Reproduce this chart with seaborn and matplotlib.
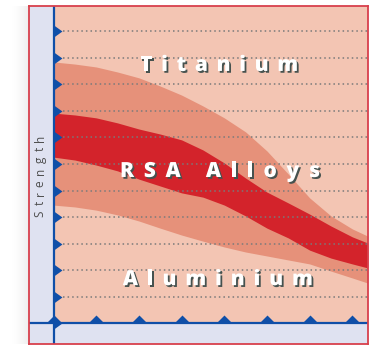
import numpy as np
import matplotlib
matplotlib.use("Agg")
import matplotlib.pyplot as plt
import matplotlib.patheffects as pe
import seaborn as sns
from matplotlib.textpath import TextToPath
from matplotlib.font_manager import FontProperties
from matplotlib.markers import MarkerStyle
from matplotlib.transforms import offset_copy

DPI = 100

# ---- data -------------------------------------------------------------
band_x = [0.0, 0.5, 1.0, 1.5, 2.0, 2.5, 3.0, 3.5, 4.0, 4.5, 5.0, 5.5, 6.0, 6.5, 7.0, 7.36]
outer_top = [9.85, 9.77, 9.66, 9.47, 9.25, 8.94, 8.60, 8.19, 7.74, 7.21, 6.49, 5.62, 4.72, 4.04, 3.55, 3.28]
core_top = [7.92, 7.85, 7.74, 7.55, 7.32, 7.13, 6.91, 6.53, 6.04, 5.47, 4.94, 4.53, 4.11, 3.66, 3.25, 3.02]
core_bottom = [6.26, 6.15, 5.96, 5.74, 5.43, 5.17, 4.91, 4.75, 4.45, 4.04, 3.58, 3.21, 2.75, 2.45, 2.23, 2.08]
outer_bottom = [4.45, 4.38, 4.26, 4.08, 3.85, 3.58, 3.32, 3.09, 2.87, 2.68, 2.53, 2.38, 2.23, 1.96, 1.70, 1.51]

strength_levels = list(range(1, 12))
x_levels = list(range(1, 8))

region_labels = ["Titanium", "RSA Alloys", "Aluminium"]
region_x = [3.88, 3.90, 3.85]
region_y = [9.51, 5.51, 1.43]
region_width_px = [158, 200, 190]

axis_label = "Strength"

# ---- colours ----------------------------------------------------------
PINK = "#F3C5B3"
SALMON = "#E6917A"
RED = "#D3232B"
LAVENDER = "#DFE2F1"
BLUE = "#0F4FA8"
FRAME = "#D8404C"
DOTS = "#7A7A7A"

sns.set_theme(style="white")
plt.rcParams["font.family"] = ["Open Sans", "DejaVu Sans"]

fig = plt.figure(figsize=(3.69, 3.47), dpi=DPI)

# soft drop shadow on the left of the frame
sh = fig.add_axes([12 / 369, 3 / 347, 17 / 369, 338 / 347])
sh.imshow(np.linspace(0.0, 0.22, 32)[None, :] ** 1.3, cmap="Greys", vmin=0, vmax=1,
          aspect="auto", interpolation="bilinear")
sh.axis("off")

ax = fig.add_axes([29 / 369, 3 / 347, 338.5 / 369, 338 / 347])
xmin, xmax = -0.574, 7.354
ymin, ymax = -0.79, 11.96
ax.set_xlim(xmin, xmax)
ax.set_ylim(ymin, ymax)
ax.set_facecolor(LAVENDER)

# plotting field
ax.fill_between([0, xmax], 0, ymax, color=PINK, lw=0, zorder=0)

# strength bands
ax.fill_between(band_x, outer_bottom, outer_top, color=SALMON, lw=0, zorder=1)
ax.fill_between(band_x, core_bottom, core_top, color=RED, lw=0, zorder=2)

# dotted guides
ax.hlines(strength_levels, 0.22, xmax, colors=DOTS, linestyles=(0, (1, 2)),
          lw=1.1, zorder=3)

# axes lines
ax.axvline(0, color=BLUE, lw=1.6, zorder=5)
ax.axhline(0, color=BLUE, lw=1.6, zorder=5)

# triangular tick marks
right_tri = MarkerStyle([(0, -5), (7, 0), (0, 5), (0, -5)])
up_tri = MarkerStyle([(-6.5, 0), (6.5, 0), (0, 6.5), (-6.5, 0)])
sns.scatterplot(x=[0] * (len(strength_levels) + 1), y=[0] + strength_levels,
                marker=right_tri, s=11.5 ** 2, color=BLUE, linewidth=0,
                ax=ax, zorder=6, legend=False)
sns.scatterplot(x=[0] + x_levels, y=[0] * (len(x_levels) + 1),
                marker=up_tri, s=11.5 ** 2, color=BLUE, linewidth=0,
                ax=ax, zorder=6, legend=False)

ax.set_xticks([])
ax.set_yticks([])
for sp in ax.spines.values():
    sp.set_visible(True)
    sp.set_color(FRAME)
    sp.set_linewidth(1.3)
    sp.set_zorder(10)

ttp = TextToPath()


def tracked(text, x, y, fp, span_px, vertical=False, **kw):
    """Draw text with even letter spacing so that it spans span_px pixels."""
    px = DPI / 72.0
    widths = []
    for ch in text:
        if ch == " ":
            widths.append(None)
        else:
            w, _, _ = ttp.get_text_width_height_descent(ch, fp, ismath=False)
            widths.append(w * px)
    space_px = fp.get_size_in_points() * px * 0.28
    ink = sum(w for w in widths if w) + space_px * text.count(" ")
    gap = (span_px - ink) / (len(text) - 1)
    pos = -span_px / 2.0
    for ch, w in zip(text, widths):
        if w is None:
            pos += space_px + gap
            continue
        if vertical:
            tr = offset_copy(ax.transData, fig=fig, x=0, y=pos / px, units="points")
            ax.text(x, y, ch, transform=tr, rotation=90, rotation_mode="anchor",
                    ha="left", va="center", fontproperties=fp, **kw)
        else:
            tr = offset_copy(ax.transData, fig=fig, x=pos / px, y=0, units="points")
            ax.text(x, y, ch, transform=tr, ha="left", va="baseline",
                    fontproperties=fp, **kw)
        pos += w + gap


label_fp = FontProperties(family="Open Sans", weight="heavy", size=15)
shadow = [pe.withSimplePatchShadow(offset=(1.3, -1.3), shadow_rgbFace="#46524F",
                                   alpha=1.0)]
for name, lx, ly, wpx in zip(region_labels, region_x, region_y, region_width_px):
    tracked(name, lx, ly, label_fp, wpx, color="white", path_effects=shadow,
            zorder=8)

axis_fp = FontProperties(family="Open Sans", weight="normal", size=8.5)
tracked(axis_label, -0.316, 5.55, axis_fp, 82, vertical=True, color="#4E4E4E",
        zorder=8)

fig.savefig("out.png", dpi=DPI)
